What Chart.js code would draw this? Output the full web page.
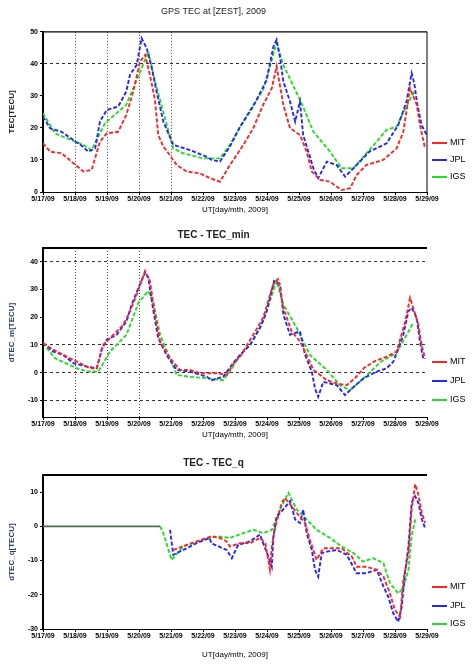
<!DOCTYPE html>
<html>
<head>
<meta charset="utf-8">
<script src="https://cdn.jsdelivr.net/npm/chart.js@4/dist/chart.umd.min.js"></script>
<style>
  body { margin: 0; background: #fff; width: 473px; height: 669px; overflow: hidden; position: relative; font-family: "Liberation Sans", Arial, sans-serif; }
  .box { position: absolute; left: 0; width: 473px; }
  .leg { position: absolute; left: 432px; font-size: 9px; color: #000; white-space: nowrap; }
  .leg span { display: inline-block; width: 15px; height: 2px; vertical-align: middle; margin-right: 3px; }
</style>
</head>
<body>

<div class="box" style="top:0;height:220px"><canvas id="tecChart" width="473" height="220"></canvas></div>
<div class="box" style="top:220px;height:225px"><canvas id="minChart" width="473" height="225"></canvas></div>
<div class="box" style="top:448px;height:221px"><canvas id="qChart" width="473" height="221"></canvas></div>

<script>
// tick labels along the time axis (one per day)
const dayLabels = ["5/17/09", "5/18/09", "5/19/09", "5/20/09", "5/21/09", "5/22/09", "5/23/09",
                   "5/24/09", "5/25/09", "5/26/09", "5/27/09", "5/28/09", "5/29/09"];
const seriesNames = ["MIT", "JPL", "IGS"];
const seriesColors = ["#ff2424", "#2424ff", "#22dd22"];

// panel 1: TEC, [day, TECU]
const tecMit = [[0,15.2],[0.22,12.6],[0.58,12.1],[0.95,9],[1.26,6.4],[1.52,6.9],[1.78,15.7],[1.99,18.3],[2.35,18.8],[2.6,24],[2.82,31.3],[3.03,40.7],[3.19,42.8],[3.34,36.6],[3.5,28.7],[3.6,17.8],[3.76,14.2],[3.92,12.1],[4.18,8.4],[4.49,6.4],[4.91,5.8],[5.22,4.3],[5.53,3.2],[5.84,8.4],[6.26,14.7],[6.57,19.9],[6.88,27.2],[7.15,32.4],[7.3,39.2],[7.51,27.2],[7.72,19.9],[8.03,17.8],[8.24,12.6],[8.4,6.4],[8.66,3.8],[8.97,3.2],[9.33,0.6],[9.6,1.2],[9.8,5.3],[10.1,8.4],[10.63,10],[11.05,13.6],[11.26,18.8],[11.47,32.4],[11.68,27.2],[11.78,20.9],[11.94,13.6]];
const tecJpl = [[0,23.5],[0.22,19.9],[0.58,18.8],[0.95,16.2],[1.2,14.5],[1.42,12.6],[1.63,13.6],[1.78,22],[1.99,25.6],[2.35,26.7],[2.6,31.3],[2.72,36.6],[2.93,39.7],[3.08,48],[3.24,44.9],[3.4,38.7],[3.55,31.3],[3.76,22],[4.07,14.7],[4.59,13.1],[5.12,11],[5.27,10],[5.53,9.5],[5.84,14.2],[6.16,20.4],[6.57,26.7],[6.99,35],[7.2,45.4],[7.3,47.5],[7.41,41.8],[7.51,34.5],[7.72,28.2],[7.88,22],[8.03,28.2],[8.13,17.8],[8.45,7.4],[8.6,4.3],[8.87,9.5],[9.18,8.4],[9.44,4.8],[9.7,7.4],[10.2,12.6],[10.74,15.2],[11.1,20.9],[11.36,28.2],[11.52,37.1],[11.6,34],[11.7,27.2],[11.83,20.9],[11.99,17.8]];
const tecIgs = [[0,24.6],[0.375,18.3],[1.26,14.7],[1.52,13.1],[1.94,21.5],[2.6,27.2],[2.93,35],[3.29,43.8],[3.5,34.5],[4.07,13.6],[4.38,12.1],[5,10.5],[5.53,10.5],[5.84,14.7],[6.47,25.6],[6.88,31.9],[7.3,46.5],[7.51,39.7],[8.08,27.7],[8.45,18.8],[8.97,12.6],[9.33,7.4],[9.7,7.4],[10.2,13.1],[10.74,19.4],[11.05,20.4],[11.3,25.6],[11.6,31.3]];

// panel 2: TEC - TEC_min
const minMit = [[0,10.7],[0.32,8.3],[0.74,5.8],[1.16,3.4],[1.47,1.6],[1.68,1.6],[1.88,10],[2.2,13.7],[2.51,17.3],[2.72,22.2],[2.93,28.3],[3.19,36.7],[3.34,33.1],[3.5,21],[3.66,11.3],[3.97,5.2],[4.28,1],[4.59,1],[4.91,-0.2],[5.43,-0.2],[5.74,-0.8],[6,4],[6.16,5.8],[6.57,13.7],[6.88,19.8],[7.2,31.9],[7.35,33.7],[7.51,23.4],[7.77,14.9],[8.03,11.3],[8.24,6.4],[8.45,1],[8.66,-0.8],[8.87,-2.7],[9.18,-3.9],[9.49,-4.5],[9.75,-2],[10.02,1.6],[10.34,4],[10.74,5.8],[11.05,7.6],[11.31,18],[11.47,27],[11.57,23.4],[11.73,17.3],[11.83,10.1],[11.94,5]];
const minJpl = [[0,10.7],[0.32,7.6],[0.63,6.4],[0.95,3.4],[1.37,2.2],[1.68,1.6],[1.83,8.3],[1.99,11.9],[2.3,13.7],[2.61,18.5],[2.77,24.6],[3.03,31.9],[3.19,36.1],[3.29,34.3],[3.45,22.2],[3.6,12.5],[3.86,6.4],[4.18,1],[4.59,0.4],[5.12,-1.5],[5.27,-2.7],[5.63,-1.5],[5.94,3.4],[6.16,6.4],[6.47,10],[6.78,16.1],[6.99,22.2],[7.22,33.1],[7.41,31.9],[7.51,21],[7.72,13.7],[8.03,14.9],[8.19,6.4],[8.4,0.4],[8.5,-5.7],[8.6,-8.7],[8.76,-3.3],[8.97,-3.9],[9.18,-4.5],[9.44,-8.1],[9.65,-5.7],[10.02,-2],[10.43,0.4],[10.74,1.6],[10.95,4],[11.26,13.7],[11.42,22.2],[11.52,23.4],[11.68,19.8],[11.78,11.3],[11.88,5.2]];
const minIgs = [[0,10.7],[0.375,5.2],[1.05,1.6],[1.42,0.4],[1.73,0.4],[2.09,7.6],[2.61,13.7],[2.98,25.2],[3.29,29.5],[3.45,25.2],[3.66,13.7],[4.18,-0.8],[4.59,-1.5],[5.12,-2],[5.63,-2.7],[5.84,0.4],[6.16,6.4],[6.47,10],[6.88,18.5],[7.3,33.1],[7.51,24.6],[7.93,16.1],[8.34,6.4],[8.87,1],[9.28,-4.5],[9.6,-6.3],[10.02,-2],[10.56,4],[11.05,7.1],[11.57,18]];

// panel 3: TEC - TEC_q
const qBase = [[0,0],[3.66,0]];
const qMit = [[4.07,-6.9],[4.49,-5.4],[4.8,-4.4],[5.27,-2.9],[5.53,-3.4],[5.74,-4.4],[5.84,-5.9],[6.16,-4.9],[6.47,-4.9],[6.78,-3.4],[6.95,-5],[7.09,-12.7],[7.15,-6],[7.25,-0.5],[7.46,6.9],[7.56,8.3],[7.77,5.9],[7.93,3.9],[8.19,1],[8.34,-3.9],[8.55,-9.8],[8.76,-6.4],[9.07,-6.4],[9.33,-6.4],[9.65,-8.8],[9.8,-11.8],[10.1,-11.8],[10.43,-12.7],[10.64,-14.7],[10.84,-19.6],[11,-24.5],[11.16,-26.5],[11.26,-15.7],[11.42,-7.8],[11.52,4.9],[11.63,12.3],[11.73,9.3],[11.84,3.9],[11.94,1]];
const qJpl = [[3.97,-1],[4.07,-8.3],[4.49,-6.4],[4.8,-4.9],[5.2,-3.4],[5.27,-5],[5.74,-6.9],[5.9,-9.3],[6.1,-5.4],[6.47,-4.4],[6.78,-2.4],[6.88,-4.9],[7.04,-8.8],[7.15,-11.8],[7.2,-2.9],[7.3,2.9],[7.46,4.4],[7.72,7.4],[7.88,2],[8.03,1],[8.13,4.9],[8.24,-2],[8.4,-6.9],[8.5,-12.7],[8.6,-14.7],[8.71,-7.8],[8.87,-7.4],[9.18,-6.9],[9.49,-8.3],[9.8,-13.7],[10.1,-13.7],[10.43,-12.7],[10.64,-17.6],[10.79,-20.6],[10.95,-25.5],[11.1,-27.9],[11.21,-23.5],[11.31,-13.7],[11.42,-5.9],[11.52,6.9],[11.63,8.8],[11.73,6.9],[11.84,2],[11.94,-0.5]];
const qIgs = [[3.66,0],[3.76,-2],[4.02,-9.8],[4.38,-5.9],[5,-3.9],[5.43,-2.9],[5.84,-3.4],[6.26,-2],[6.57,-1],[6.88,-2],[7.15,-1],[7.41,4.9],[7.67,9.8],[7.93,4.9],[8.24,2],[8.55,-1],[8.97,-3.4],[9.33,-5.9],[9.7,-7.8],[10,-10.3],[10.32,-9.3],[10.64,-10.8],[10.84,-16.6],[11.1,-19.6],[11.26,-18.1],[11.42,-12.7],[11.52,-2.9],[11.63,2]];

const FONT = "'Liberation Sans', Arial, sans-serif";

// thin frame lines the library does not draw on its own
const framePlugin = {
    id: "frame",
    afterDraw(chart, args, o) {
        const { ctx, chartArea: a } = chart;
        ctx.save();
        ctx.strokeStyle = "#000";
        ctx.lineWidth = o.top || 1;
        ctx.beginPath();
        ctx.moveTo(a.left, a.top);
        ctx.lineTo(a.right, a.top);
        ctx.stroke();
        if (o.right) {
            ctx.lineWidth = 1;
            ctx.beginPath();
            ctx.moveTo(a.right, a.top);
            ctx.lineTo(a.right, a.bottom);
            ctx.stroke();
        }
        ctx.restore();
    }
};

function toPoints(pairs) {
    return pairs.map(p => ({ x: p[0], y: p[1] }));
}

function makeChart(id, cfg) {
    const sets = cfg.series.map((s, i) => ({
        label: seriesNames[i],
        data: toPoints(s),
        borderColor: seriesColors[i],
        borderWidth: 1.9,
        borderDash: [4, 2],
        pointRadius: 0,
        fill: false,
        tension: 0
    }));
    if (cfg.base) {
        sets.unshift({
            label: "base",
            data: toPoints(cfg.base),
            borderColor: "#466e52",
            borderWidth: 1.8,
            pointRadius: 0,
            fill: false
        });
    }

    return new Chart(document.getElementById(id), {
        type: "line",
        data: { datasets: sets },
        plugins: [framePlugin],
        options: {
            responsive: false,
            animation: false,
            layout: { padding: { top: cfg.padTop, right: 46, left: 0, bottom: 0 } },
            plugins: {
                legend: { display: false },
                tooltip: { enabled: false },
                frame: { top: cfg.frameTop, right: cfg.frameRight },
                title: {
                    display: true,
                    text: cfg.title,
                    color: "#222",
                    font: { family: FONT, size: cfg.titleSize, weight: cfg.titleBold ? "bold" : "normal" },
                    padding: cfg.titlePad
                }
            },
            scales: {
                x: {
                    type: "linear",
                    min: 0,
                    max: 12,
                    afterFit: s => { s.height = cfg.xHeight; },
                    ticks: {
                        stepSize: 1,
                        autoSkip: false,
                        maxRotation: 0,
                        padding: 0,
                        color: "#000",
                        font: { family: FONT, size: 7, weight: "bold" },
                        callback: v => dayLabels[v]
                    },
                    grid: {
                        color: c => (c.tick && cfg.xGrid(c.tick.value)) ? "#444" : "transparent",
                        tickColor: "#000",
                        tickLength: 3,
                        tickBorderDash: []
                    },
                    border: { display: true, color: "#000", width: 1, dash: [1, 2] },
                    title: {
                        display: true,
                        text: "UT[day/mth, 2009]",
                        color: "#000",
                        font: { family: FONT, size: 8 },
                        padding: { top: 0, bottom: cfg.xTitlePad }
                    }
                },
                y: {
                    min: cfg.yMin,
                    max: cfg.yMax,
                    afterFit: s => { s.width = 43; },
                    afterBuildTicks: s => { s.ticks = s.ticks.filter(t => t.value % 10 === 0); },
                    ticks: {
                        stepSize: 10,
                        padding: 2,
                        color: "#000",
                        font: { family: FONT, size: 7, weight: "bold" }
                    },
                    grid: {
                        color: c => (c.tick && cfg.yGrid(c.tick.value)) ? "#333" : "transparent",
                        tickColor: "#000",
                        tickLength: 3,
                        tickBorderDash: []
                    },
                    border: { display: true, color: "#000", width: 2, dash: [3, 3] },
                    title: {
                        display: true,
                        text: cfg.yTitle,
                        color: cfg.yTitleColor,
                        font: { family: FONT, size: 8, weight: "bold" },
                        padding: { top: 7, bottom: 0 }
                    }
                }
            }
        }
    });
}

makeChart("tecChart", {
    series: [tecMit, tecJpl, tecIgs],
    title: "GPS TEC at [ZEST], 2009",
    titleSize: 9, titleBold: false,
    titlePad: { top: 4, bottom: 15 }, padTop: 2,
    xHeight: 28, xTitlePad: 5,
    yMin: 0, yMax: 50,
    yTitle: "TEC[TECU]", yTitleColor: "#222",
    xGrid: v => v <= 4,
    yGrid: v => v === 40,
    frameTop: 1.2, frameRight: true
});

makeChart("minChart", {
    series: [minMit, minJpl, minIgs],
    title: "TEC - TEC_min",
    titleSize: 10, titleBold: true,
    titlePad: { top: 9, bottom: 7 }, padTop: 0,
    xHeight: 28, xTitlePad: 5,
    yMin: -16, yMax: 45,
    yTitle: "dTEC_m[TECU]", yTitleColor: "#2c3f6c",
    xGrid: v => v <= 3,
    yGrid: v => v === 40 || v <= 10,
    frameTop: 2, frameRight: false
});

makeChart("qChart", {
    series: [qMit, qJpl, qIgs],
    base: qBase,
    title: "TEC - TEC_q",
    titleSize: 10, titleBold: true,
    titlePad: { top: 9, bottom: 6 }, padTop: 0,
    xHeight: 40, xTitlePad: 9,
    yMin: -30, yMax: 15,
    yTitle: "dTEC_q[TECU]", yTitleColor: "#2c3f6c",
    xGrid: v => false,
    yGrid: v => v === -30,
    frameTop: 2, frameRight: false
});

// legends on the right of each panel
function addLegend(topList) {
    topList.forEach((top, i) => {
        const d = document.createElement("div");
        d.className = "leg";
        d.style.top = (top - 6) + "px";
        d.innerHTML = '<span style="background:' + seriesColors[i] + '"></span>' + seriesNames[i];
        document.body.appendChild(d);
    });
}
addLegend([143, 160, 177]);
addLegend([362, 381, 400]);
addLegend([587, 606, 624]);
</script>
</body>
</html>
